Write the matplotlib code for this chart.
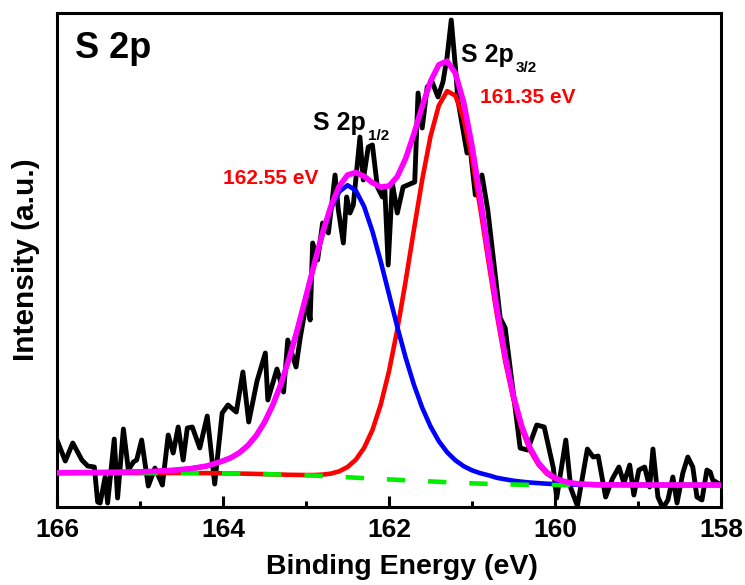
import matplotlib
matplotlib.use('Agg')
from matplotlib import pyplot as plt
from matplotlib.ticker import MultipleLocator

# raw S 2p spectrum (binding energy in eV, intensity in arbitrary units)
be_raw = [166.00, 165.90, 165.81, 165.70, 165.63, 165.55, 165.51, 165.48, 165.42, 165.39,
          165.31, 165.27, 165.20, 165.14, 165.08, 165.04, 164.98, 164.90, 164.82, 164.73,
          164.66, 164.60, 164.54, 164.48, 164.43, 164.37, 164.28, 164.19, 164.10, 164.01,
          163.94, 163.84, 163.76, 163.69, 163.59, 163.49, 163.46, 163.35, 163.27, 163.22,
          163.12, 163.07, 162.99, 162.95, 162.92, 162.86, 162.80, 162.73, 162.65, 162.61,
          162.55, 162.51, 162.47, 162.43, 162.35, 162.31, 162.25, 162.20, 162.14, 162.08,
          162.05, 162.01, 161.96, 161.90, 161.83, 161.69, 161.65, 161.60, 161.54, 161.48,
          161.41, 161.35, 161.30, 161.25, 161.20, 161.17, 161.06, 161.02, 160.96, 160.88,
          160.81, 160.66, 160.60, 160.42, 160.33, 160.22, 160.13, 160.02, 159.98, 159.87,
          159.81, 159.73, 159.61, 159.54, 159.48, 159.39, 159.31, 159.23, 159.17, 159.10,
          159.05, 158.99, 158.92, 158.86, 158.82, 158.76, 158.70, 158.64, 158.58, 158.53,
          158.46, 158.40, 158.34, 158.29, 158.23, 158.17, 158.13, 158.10, 158.04, 158.00]
counts_raw = [67, 46, 64, 47, 41, 40, 5, 4, 30, 4,
              68, 9, 78, 37, 45, 47, 67, 21, 39, 22,
              72, 54, 80, 47, 79, 80, 59, 91, 23, 94,
              102, 95, 135, 85, 126, 154, 107, 138, 115, 167,
              140, 169, 207, 187, 264, 247, 284, 274, 332, 297,
              264, 310, 294, 302, 370, 327, 360, 362, 320, 310,
              317, 242, 324, 294, 320, 325, 414, 379, 420, 425,
              410, 425, 450, 487, 440, 407, 354, 357, 312, 332,
              297, 189, 179, 59, 57, 82, 80, 39, 9, 67,
              19, 1, 58, 50, 51, 10, 28, 40, 24, 42,
              12, 37, 40, 20, 58, 10, -1, 7, 30, 4,
              34, 50, 40, 10, 7, 37, 35, 27, 24, 22]

# fitted curves
be_fit = [166.0, 165.5, 165.0, 164.8, 164.6, 164.4, 164.2, 164.0, 163.9, 163.8,
          163.7, 163.6, 163.5, 163.4, 163.3, 163.2, 163.1, 163.0, 162.9, 162.8,
          162.7, 162.6, 162.5, 162.4, 162.3, 162.2, 162.1, 162.0, 161.9, 161.8,
          161.7, 161.6, 161.5, 161.4, 161.3, 161.2, 161.1, 161.0, 160.9, 160.8,
          160.7, 160.6, 160.5, 160.4, 160.3, 160.2, 160.1, 160.0, 159.9, 159.8,
          159.7, 159.5, 159.0, 158.5, 158.0]
background = [34.0, 34.0, 34.0, 34.0, 34.0, 34.0, 33.9, 33.7, 33.6, 33.4,
              33.3, 33.1, 32.9, 32.7, 32.5, 32.2, 32.0, 31.7, 31.4, 31.0,
              30.6, 30.2, 29.8, 29.3, 28.9, 28.4, 28.0, 27.6, 27.2, 26.8,
              26.4, 26.0, 25.6, 25.2, 24.8, 24.4, 24.0, 23.7, 23.4, 23.1,
              22.9, 22.7, 22.5, 22.3, 22.2, 22.1, 22.0, 22.0, 22.0, 22.0,
              22.0, 22.0, 22.0, 22.0, 22.0]
peak_1_2 = [34.3, 34.6, 35.2, 35.8, 36.8, 38.3, 40.9, 46.1, 49.5, 54.4,
            61.6, 71.4, 84.7, 102.0, 123.5, 149.3, 178.7, 210.4, 242.6, 272.8,
            298.0, 315.2, 321.8, 316.5, 300.5, 275.8, 245.6, 212.8, 180.1, 149.5,
            122.3, 99.3, 80.6, 65.9, 54.8, 46.7, 40.8, 36.7, 33.8, 31.7,
            29.2, 27.7, 26.3, 25.3, 24.5, 23.9, 23.3, 23.0, 22.7, 22.5,
            22.4, 22.2, 22.1, 22.0, 22.0]
peak_3_2 = [34.0, 34.0, 34.0, 34.0, 34.0, 34.0, 33.9, 33.7, 33.6, 33.4,
            33.3, 33.1, 32.9, 32.7, 32.5, 32.2, 32.1, 32.0, 32.0, 32.4,
            33.4, 35.7, 40.0, 47.3, 59.1, 76.9, 102.3, 135.8, 177.5, 225.7,
            277.2, 327.3, 370.6, 401.5, 415.9, 411.4, 387.8, 348.4, 298.6, 244.6,
            192.2, 145.6, 107.2, 77.7, 56.7, 42.4, 33.4, 28.1, 25.1, 23.5,
            22.7, 22.1, 22.0, 22.0, 22.0]
envelope = [34.3, 34.6, 35.2, 35.8, 36.8, 38.3, 40.9, 46.1, 49.5, 54.4,
            61.6, 71.4, 84.7, 102.0, 123.5, 149.3, 178.8, 210.7, 243.2, 274.2,
            300.8, 320.7, 332.0, 334.5, 330.7, 324.3, 319.9, 321.0, 330.4, 348.4,
            373.1, 400.6, 425.6, 442.2, 445.9, 433.7, 404.6, 361.4, 309.0, 253.2,
            198.5, 150.6, 111.0, 80.7, 59.0, 44.2, 34.7, 29.1, 25.8, 24.0,
            23.1, 22.3, 22.1, 22.0, 22.0]

plt.rcParams['font.family'] = ['Liberation Sans', 'DejaVu Sans']
plt.rcParams['font.weight'] = 'bold'

fig = plt.figure(figsize=(7.45, 5.85), dpi=100)
ax = fig.add_axes([0.0765, 0.1333, 0.8913, 0.8445])

ax.plot(be_raw, counts_raw, color='black', lw=3.5, zorder=1)
ax.plot(be_fit, peak_3_2, color='#ff0000', lw=3.3, zorder=2)
ax.plot(be_fit, peak_1_2, color='#0000ff', lw=3.3, zorder=3)
ax.plot(be_fit, background, color='#00ee00', lw=3.3, dashes=(4.0, 5.0), zorder=4)
ax.plot(be_fit, envelope, color='#ff00ff', lw=4.0, zorder=5)

ax.set_xlim(166, 158)
ax.set_ylim(0, 494)
ax.set_yticks([])
ax.xaxis.set_major_locator(MultipleLocator(2))
ax.xaxis.set_minor_locator(MultipleLocator(1))
ax.tick_params(axis='x', which='major', direction='in', length=8, width=2.2,
               labelsize=19, pad=8, top=False)
ax.tick_params(axis='x', which='minor', direction='in', length=4, width=2.2, top=False)
for s in ax.spines.values():
    s.set_linewidth(2.2)

ax.set_xlabel('Binding Energy (eV)', fontsize=20.5, fontweight='bold', labelpad=12)
ax.xaxis.set_label_coords(0.52, -0.095, transform=ax.transAxes)
ax.xaxis.label.set_va('top')
ax.set_ylabel('Intensity (a.u.)', fontsize=21.5, fontweight='bold', labelpad=12)

ax.text(0.027, 0.909, 'S 2p', transform=ax.transAxes, fontsize=26,
        fontweight='bold', va='baseline', ha='left')

# doublet labels with subscripts
for x, y, sub in [(162.92, 377, '1/2'), (161.13, 445, '3/2')]:
    ax.text(x, y, 'S 2p', fontsize=18, fontweight='bold', va='baseline', ha='left')
    ax.annotate(sub, xy=(x, y), xytext=(39.5, -7), textcoords='offset points',
                fontsize=11, fontweight='bold', va='baseline', ha='left')

ax.text(164.0, 323, '162.55 eV', color='#ff0000', fontsize=15, fontweight='bold',
        va='baseline', ha='left')
ax.text(160.90, 404, '161.35 eV', color='#ff0000', fontsize=15, fontweight='bold',
        va='baseline', ha='left')

plt.savefig('out.png', dpi=100)
